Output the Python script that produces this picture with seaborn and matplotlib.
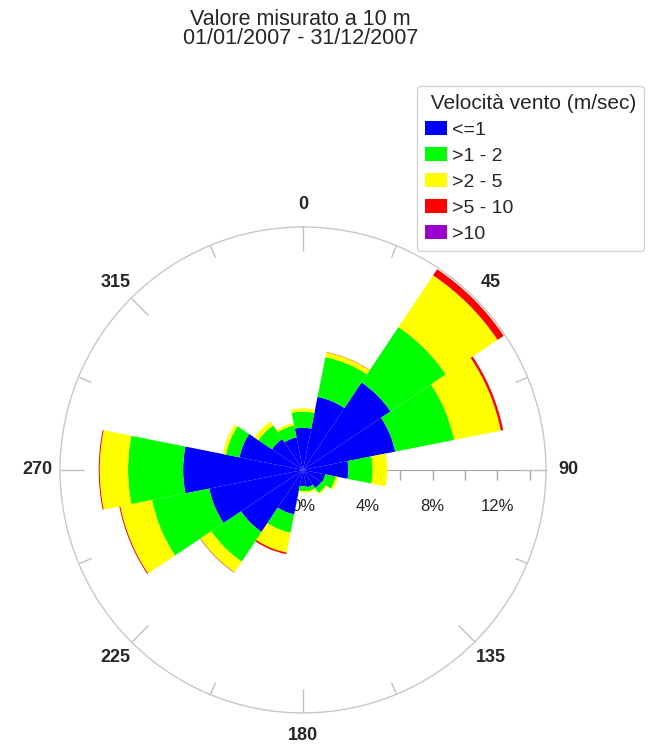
import numpy as np
import seaborn as sns
import matplotlib.pyplot as plt
from matplotlib.patches import Patch

# Wind rose: frequency (%) per direction sector and speed class
directions = [0, 22.5, 45, 67.5, 90, 112.5, 135, 157.5,
              180, 202.5, 225, 247.5, 270, 292.5, 315, 337.5]
speed_classes = ['<=1', '>1 - 2', '>2 - 5', '>5 - 10', '>10']
freq_le1 = [2.6, 4.6, 6.5, 5.8, 2.8, 1.4, 1.35, 1.1, 1.0, 2.8, 4.6, 5.9, 7.4, 4.0, 2.3, 2.05]
freq_1_2 = [1.0, 2.5, 4.1, 3.7, 1.5, 0.65, 0.35, 0.25, 0.3, 1.15, 2.2, 3.6, 3.4, 0.85, 1.0, 0.75]
freq_2_5 = [0.2, 0.3, 3.85, 2.95, 0.9, 0.15, 0.1, 0.1, 0.1, 1.25, 0.8, 2.0, 1.75, 0.2, 0.3, 0.15]
freq_5_10 = [0, 0.02, 0.45, 0.15, 0, 0, 0, 0, 0, 0.1, 0.03, 0.06, 0.06, 0, 0, 0]
freq_gt10 = [0] * 16
class_colors = ['#0000ff', '#00ff00', '#ffff00', '#ff0000', '#9900cc']

angle_ticks = [0, 45, 90, 135, 180, 225, 270, 315]
pct_ticks = [0, 2, 4, 6, 8, 10, 12, 14]
pct_labels = ['0%', '', '4%', '', '8%', '', '12%', '']
r_max = 15

sns.set_style('white')
plt.rcParams['font.family'] = ['Liberation Sans', 'DejaVu Sans']

fig = plt.figure(figsize=(6.61, 7.49), dpi=100)
rect = [0.0908, 0.0481, 0.7352, 0.6489]

# radial scale drawn on a cartesian overlay below the rose
ax_r = fig.add_axes(rect)
ax_r.set_xlim(-r_max, r_max)
ax_r.set_ylim(-r_max, r_max)
ax_r.patch.set_visible(False)
for s in ['top', 'left', 'right']:
    ax_r.spines[s].set_visible(False)
ax_r.spines['bottom'].set_position(('data', 0))
ax_r.spines['bottom'].set_bounds(0, r_max)
ax_r.spines['bottom'].set_color('#a8a8a8')
ax_r.set_yticks([])
ax_r.set_xticks(pct_ticks)
ax_r.set_xticklabels(pct_labels)
ax_r.tick_params(axis='x', bottom=True, direction='out', length=7, width=1,
                 color='#a8a8a8', pad=14, labelsize=12)
ax_r.set_zorder(0)

ax = fig.add_axes(rect, projection='polar')
ax.set_zorder(1)
ax.patch.set_alpha(0)
ax.set_theta_zero_location('N')
ax.set_theta_direction(-1)

theta = np.deg2rad(directions)
width = np.deg2rad(22.5)
bottom = np.zeros(len(directions))
for vals, col in zip([freq_le1, freq_1_2, freq_2_5, freq_5_10, freq_gt10], class_colors):
    vals = np.array(vals)
    ax.bar(theta, vals, width=width, bottom=bottom, color=col, linewidth=0)
    bottom += vals

ax.set_ylim(0, r_max)
ax.set_yticks([])
ax.grid(False)
ax.spines['polar'].set_color('#c8c8c8')
ax.spines['polar'].set_linewidth(1)
ax.set_xticks(np.deg2rad(angle_ticks))
ax.set_xticklabels([str(a) for a in angle_ticks])
ax.set_xticks(np.deg2rad(np.array(angle_ticks) + 22.5), minor=True)
# tick2 sits on the outer circle in a polar axes
ax.tick_params(axis='x', which='major', bottom=False, top=True, direction='in',
               length=17, width=1, color='#c0c0c0', pad=9, labelsize=13)
ax.tick_params(axis='x', which='minor', bottom=False, top=True, direction='in',
               length=9, width=1, color='#c0c0c0')
for lbl in ax.get_xticklabels():
    lbl.set_fontweight('bold')

fig.text(0.455, 1 - 9 / 749, 'Valore misurato a 10 m\n01/01/2007 - 31/12/2007',
         ha='center', va='top', fontsize=15.5, linespacing=0.85)

handles = [Patch(facecolor=c, edgecolor='none') for c in class_colors]
leg = fig.legend(handles, speed_classes, title=' Velocità vento (m/sec)',
                 loc='upper left', bbox_to_anchor=(417 / 661, 1 - 86 / 749),
                 fontsize=14, title_fontsize=15, handlelength=1.15,
                 handleheight=0.67, handletextpad=0.25, labelspacing=0.44,
                 borderpad=0.4, borderaxespad=0, frameon=True, fancybox=True,
                 alignment='left')
leg.get_frame().set_edgecolor('#c8c8c8')

fig.savefig('out.png', dpi=100)
